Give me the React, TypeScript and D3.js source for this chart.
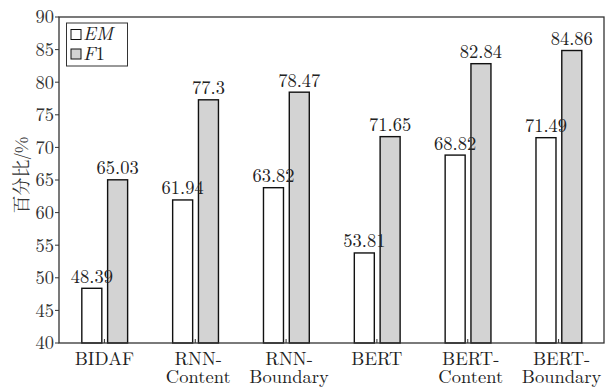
import React from "react";
import * as d3 from "d3";

const categories = [["BIDAF"], ["RNN-", "Content"], ["RNN-", "Boundary"], ["BERT"], ["BERT-", "Content"], ["BERT-", "Boundary"]];
const emValues = [48.39, 61.94, 63.82, 53.81, 68.82, 71.49];
const f1Values = [65.03, 77.3, 78.47, 71.65, 82.84, 84.86];
const emLabels = ["48.39", "61.94", "63.82", "53.81", "68.82", "71.49"];
const f1Labels = ["65.03", "77.3", "78.47", "71.65", "82.84", "84.86"];
const yTicks = [40, 45, 50, 55, 60, 65, 70, 75, 80, 85, 90];

const W = 612, H = 388;
const left = 59, right = 604, top = 17, bottom = 343;
const FONT = "\"Latin Modern Roman\", \"Liberation Serif\", serif";
const CJK = "\"Noto Serif CJK SC\", \"Noto Sans CJK SC\", serif";

export default function App() {
  const x = d3.scaleBand<number>().domain(d3.range(categories.length)).range([left, right]).padding(0);
  const y = d3.scaleLinear().domain([40, 90]).range([bottom, top]);
  const barW = 20;
  const center = (i: number) => (x(i) as number) + x.bandwidth() / 2;
  const emX = (i: number) => center(i) - 2.6 - barW;
  const f1X = (i: number) => center(i) + 3.2;
  const tf = { fontFamily: FONT };

  return (
    <svg width={W} height={H} style={{ position: "absolute", left: 0, top: 0, background: "#fff" }}>
      <rect x={0} y={0} width={W} height={H} fill="#fff" />
      {emValues.map((v, i) => (
        <rect key={"em" + i} x={emX(i)} y={y(v)} width={barW} height={bottom - y(v)} fill="#fff" stroke="#111" strokeWidth={1.4} />
      ))}
      {f1Values.map((v, i) => (
        <rect key={"f1" + i} x={f1X(i)} y={y(v)} width={barW} height={bottom - y(v)} fill="#d3d3d3" stroke="#111" strokeWidth={1.4} />
      ))}
      {emValues.map((v, i) => (
        <text key={"eml" + i} x={emX(i) + barW / 2} y={y(v) - 5.5} textAnchor="middle" style={tf} fontSize={18.5} fill="#222">{emLabels[i]}</text>
      ))}
      {f1Values.map((v, i) => (
        <text key={"f1l" + i} x={f1X(i) + barW / 2} y={y(v) - 5.5} textAnchor="middle" style={tf} fontSize={18.5} fill="#222">{f1Labels[i]}</text>
      ))}
      <rect x={left} y={top} width={right - left} height={bottom - top} fill="none" stroke="#333" strokeWidth={1.3} />
      {yTicks.map((t) => (
        <g key={"yt" + t}>
          <line x1={left - 4} x2={left} y1={y(t)} y2={y(t)} stroke="#333" strokeWidth={1} />
          <text x={left - 5} y={y(t)} dy="0.35em" textAnchor="end" style={tf} fontSize={18.5} fill="#333">{t}</text>
        </g>
      ))}
      {categories.map((c, i) => (
        <g key={"xt" + i}>
          <line x1={center(i)} x2={center(i)} y1={bottom} y2={bottom - 4} stroke="#333" strokeWidth={1} />
          {c.map((line, j) => (
            <text key={j} x={center(i) + (c.length > 1 ? 3 : 0)} y={bottom + 22 + j * 18} textAnchor="middle" style={tf} fontSize={18.5} fill="#222">{line}</text>
          ))}
        </g>
      ))}
      <text transform={`translate(22,175) rotate(-90)`} textAnchor="middle" style={{ fontFamily: CJK }} fontSize={18} fill="#333" dy="0.35em">百分比/%</text>
      <rect x={66.5} y={23} width={61} height={43} fill="#fff" stroke="#333" strokeWidth={1} />
      <rect x={71} y={29.5} width={10} height={10} fill="#fff" stroke="#111" strokeWidth={1} />
      <rect x={71} y={49} width={10} height={10} fill="#d3d3d3" stroke="#111" strokeWidth={1} />
      <text x={83} y={40} style={tf} fontStyle="italic" fontSize={19} fill="#222">EM</text>
      <text x={83} y={60} style={tf} fontSize={19} fill="#222"><tspan fontStyle="italic">F</tspan>1</text>
    </svg>
  );
}
